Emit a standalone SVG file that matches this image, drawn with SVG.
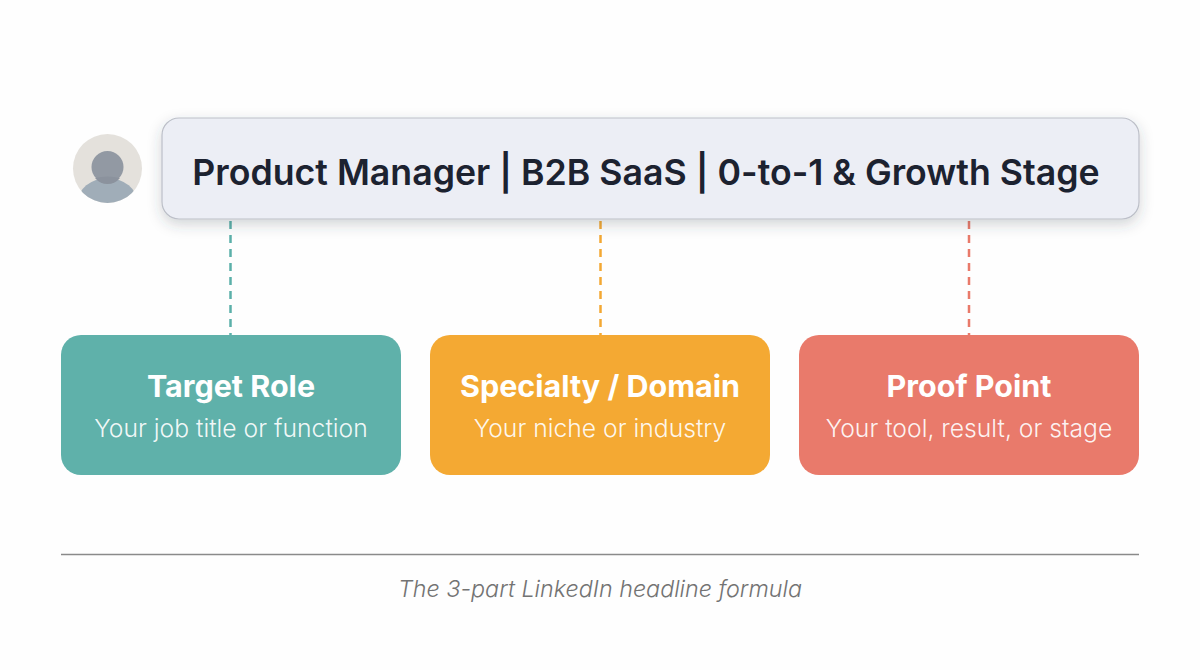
<svg xmlns="http://www.w3.org/2000/svg" width="1200" height="670" viewBox="0 0 1200 670">
<style>
text{font-family:Inter,"Liberation Sans",sans-serif;text-anchor:middle}
.t{font-size:30.500px;font-weight:700;fill:#fff}
.s{font-size:24.700px;font-weight:300;fill:#fff;fill-opacity:.92}
.c{fill:none;stroke-width:2.500;stroke-dasharray:8 6}
</style>
<defs>
<filter id="sh" x="-5%" y="-20%" width="110%" height="145%"><feDropShadow dx="0" dy="5" stdDeviation="7" flood-color="#3a4050" flood-opacity=".22"/></filter>
<clipPath id="av"><circle cx="107.500" cy="168.500" r="34.500"/></clipPath>
</defs>
<rect width="1200" height="670" fill="#fefefe"/>
<g id="connectors">
<path class="c" stroke="#5bb0a9" d="M230.500 221V335"/>
<path class="c" stroke="#f3a833" d="M600.500 221V335"/>
<path class="c" stroke="#e97a6a" d="M969 221V335"/>
</g>
<g id="avatar">
<circle cx="107.500" cy="168.500" r="34.500" fill="#e4e1dc"/>
<g clip-path="url(#av)">
<ellipse cx="107.500" cy="203" rx="30" ry="25" fill="#a0adb8"/>
<circle cx="107.500" cy="167" r="16" fill="#9299a3"/>
<path d="M95 178A16 16 0 0 0 120 178Q108 175 95 178Z" fill="#8b929d"/>
</g>
</g>
<g id="headline">
<rect x="162" y="118" width="977" height="101" rx="17" fill="#eceef5" stroke="#bcbfc8" stroke-width="1.200" filter="url(#sh)"/>
<text x="646" y="184.500" font-size="35.700" font-weight="600" fill="#1c2230">Product Manager | B2B SaaS | 0-to-1 &amp; Growth Stage</text>
</g>
<g id="target-role">
<rect x="61" y="335" width="340" height="140" rx="20" fill="#5fb1aa"/>
<text class="t" x="231" y="396.500">Target Role</text>
<text class="s" x="231" y="436.500">Your job title or function</text>
</g>
<g id="specialty-domain">
<rect x="430" y="335" width="340" height="140" rx="20" fill="#f4a933"/>
<text class="t" x="600" y="396.500">Specialty / Domain</text>
<text class="s" x="600" y="436.500">Your niche or industry</text>
</g>
<g id="proof-point">
<rect x="799" y="335" width="340" height="140" rx="20" fill="#e97a6b"/>
<text class="t" x="969" y="396.500">Proof Point</text>
<text class="s" x="969" y="436.500">Your tool, result, or stage</text>
</g>
<g id="footer">
<path d="M61 554.500H1139" stroke="#8a8a8a" stroke-width="1.500"/>
<text x="600" y="596.500" font-size="23.300" font-style="italic" font-weight="300" fill="#737373">The 3-part LinkedIn headline formula</text>
</g>
</svg>
